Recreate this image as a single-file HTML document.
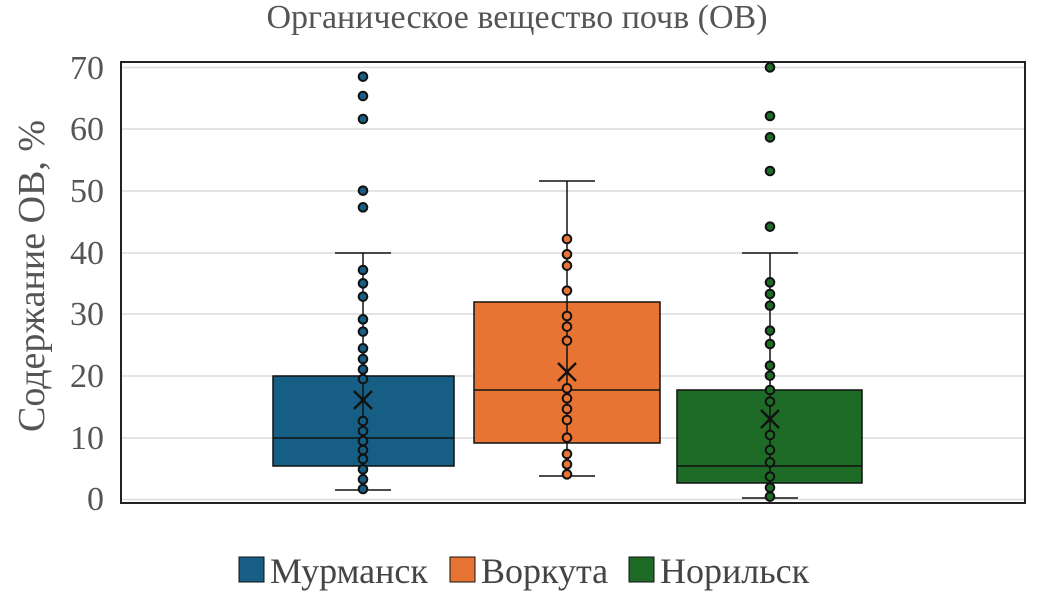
<!DOCTYPE html>
<html><head><meta charset="utf-8"><style>
body{margin:0;background:#fff;}
svg{display:block;font-family:"Liberation Serif",serif;}
</style></head><body>
<svg id="s" width="1055" height="602" viewBox="0 0 1055 602">
<rect width="1055" height="602" fill="#fff"/>
<text x="517" y="28" font-size="34" fill="#555" text-anchor="middle">Органическое вещество почв (ОВ)</text>
<g stroke="#dcdcdc" stroke-width="1.5">
<line x1="122" x2="1024" y1="67.5" y2="67.5"/>
<line x1="122" x2="1024" y1="129" y2="129"/>
<line x1="122" x2="1024" y1="191" y2="191"/>
<line x1="122" x2="1024" y1="253" y2="253"/>
<line x1="122" x2="1024" y1="314" y2="314"/>
<line x1="122" x2="1024" y1="376" y2="376"/>
<line x1="122" x2="1024" y1="438" y2="438"/>
<line x1="122" x2="1024" y1="499.5" y2="499.5"/>
</g>
<rect x="121" y="62" width="904" height="441" fill="none" stroke="#222" stroke-width="2"/>
<g font-size="34" fill="#555" text-anchor="end">
<text x="104" y="79">70</text><text x="104" y="140">60</text><text x="104" y="202">50</text>
<text x="104" y="264">40</text><text x="104" y="325">30</text><text x="104" y="387">20</text>
<text x="104" y="449">10</text><text x="104" y="510">0</text>
</g>
<text transform="translate(44,276) rotate(-90)" font-size="38" fill="#555" text-anchor="middle">Содержание ОВ, %</text>
<g id="boxes" stroke="#111" stroke-width="1.5"></g>
<g font-size="36" fill="#444">
<rect x="239" y="557" width="25" height="25" fill="#175e85" stroke="#111"/><text x="270" y="583">Мурманск</text>
<rect x="450" y="557" width="25" height="25" fill="#e87434" stroke="#111"/><text x="481" y="583">Воркута</text>
<rect x="629" y="557" width="25" height="25" fill="#1d6b27" stroke="#111"/><text x="660" y="583">Норильск</text>
</g>
<script>
var NS="http://www.w3.org/2000/svg",g=document.getElementById("boxes");
function el(t,a){var e=document.createElementNS(NS,t);for(var k in a)e.setAttribute(k,a[k]);g.appendChild(e);return e;}
var S=[
{c:363,x1:273,x2:454,top:376,bot:466,med:438,wt:253,wb:490,mean:400,col:"#175e85",
 p:[50,108,177,392,442,630,670,710,778,815,865,897,928,957,1083,1113,1143,1170,1197,1228,1258,1287]},
{c:567,x1:474,x2:660,top:302,bot:443,med:390,wt:181,wb:476,mean:372,col:"#e87434",
 p:[537,583,617,692,768,800,842,985,1015,1047,1080,1133,1182,1213,1243]},
{c:770,x1:677,x2:862,top:390,bot:483,med:466,wt:253,wb:498,mean:419,col:"#1d6b27",
 p:[22,168,232,333,500,667,702,737,812,852,917,947,990,1025,1125,1170,1207,1250,1283,1310]}];
S.forEach(function(s){
 el("line",{x1:s.c,x2:s.c,y1:s.wt,y2:s.top});
 el("line",{x1:s.c,x2:s.c,y1:s.bot,y2:s.wb});
 el("line",{x1:s.c-28,x2:s.c+28,y1:s.wt,y2:s.wt});
 el("line",{x1:s.c-28,x2:s.c+28,y1:s.wb,y2:s.wb});
 el("rect",{x:s.x1,y:s.top,width:s.x2-s.x1,height:s.bot-s.top,fill:s.col});
 el("line",{x1:s.c,x2:s.c,y1:s.top,y2:s.bot});
 el("line",{x1:s.x1,x2:s.x2,y1:s.med,y2:s.med});
 s.p.forEach(function(z){el("circle",{cx:s.c,cy:z/3+60,r:4.3,fill:s.col,"stroke-width":2});});
 var m=s.mean,d=9;
 el("path",{d:"M"+(s.c-d)+" "+(m-d)+"L"+(s.c+d)+" "+(m+d)+"M"+(s.c+d)+" "+(m-d)+"L"+(s.c-d)+" "+(m+d),"stroke-width":2.4,fill:"none"});
});
</script>
</svg>
</body></html>
